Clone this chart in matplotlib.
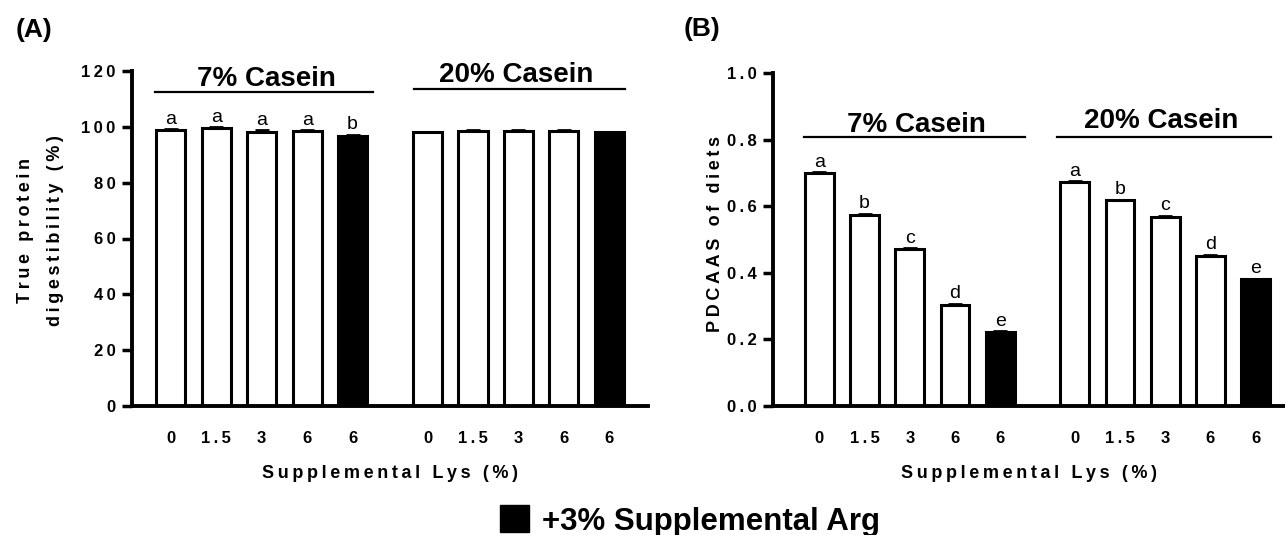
import numpy as np
import matplotlib
matplotlib.use('Agg')
import matplotlib.pyplot as plt
from matplotlib.patches import Patch

plt.rcParams['font.family'] = ['Liberation Sans', 'DejaVu Sans']
NARROW = ['Liberation Sans Narrow', 'Liberation Sans', 'DejaVu Sans']

# data
lys = ['0', '1.5', '3', '6', '6']
plus_arg = [False, False, False, False, True]
groups = ['7% Casein', '20% Casein']

tpd_7 = [98.9, 99.6, 98.3, 98.4, 96.8]
tpd_20 = [98.0, 98.5, 98.6, 98.5, 98.0]
tpd_7_err = [0.3, 0.3, 0.4, 0.4, 0.4]
tpd_20_err = [0.2, 0.2, 0.2, 0.2, 0.1]
tpd_7_let = ['a', 'a', 'a', 'a', 'b']
tpd_20_let = ['', '', '', '', '']

pdcaas_7 = [0.700, 0.575, 0.471, 0.304, 0.223]
pdcaas_20 = [0.673, 0.618, 0.569, 0.452, 0.381]
pdcaas_7_err = [0.003, 0.003, 0.003, 0.003, 0.002]
pdcaas_20_err = [0.003, 0.002, 0.003, 0.003, 0.002]
pdcaas_7_let = ['a', 'b', 'c', 'd', 'e']
pdcaas_20_let = ['a', 'b', 'c', 'd', 'e']


def spaced(s, sep='\u2009'):
    # GraphPad-style letter spacing
    return sep.join(s)


x7 = np.arange(5)
x20 = np.arange(5) + 5.65
W, H = 1285, 535

fig = plt.figure(figsize=(12.85, 5.35), dpi=100)
axA = fig.add_axes([132.2 / W, 1 - 406 / H, 515.8 / W, 335 / H])
axB = fig.add_axes([773.3 / W, 1 - 406 / H, 511.7 / W, 332.7 / H])


def panel(ax, v7, v20, e7, e20, l7, l20, ymax, yticks, fmt, xlim, loff,
          lines, texts):
    for xs, vals, errs, lets in [(x7, v7, e7, l7), (x20, v20, e20, l20)]:
        cols = ['black' if a else 'white' for a in plus_arg]
        ax.bar(xs, vals, width=0.64, color=cols, edgecolor='black',
               linewidth=2.2, zorder=2)
        ax.errorbar(xs, vals, yerr=[np.zeros(5), errs], fmt='none',
                    ecolor='black', elinewidth=1.5, capsize=5, capthick=2,
                    zorder=3)
        for x, v, e, t in zip(xs, vals, errs, lets):
            if t:
                ax.annotate(t, (x, v + e), xytext=(0, loff),
                            textcoords='offset points', ha='center',
                            va='baseline', fontsize=14, family=NARROW)
    for (a, b, y), (tx, ty), g in zip(lines, texts, groups):
        ax.plot([a, b], [y, y], color='black', lw=1.6, clip_on=False)
        ax.text(tx, ty, g, ha='center', va='baseline', fontsize=20,
                fontweight='bold', family=NARROW)
    ax.set_xlim(*xlim)
    ax.set_ylim(0, ymax)
    ax.set_yticks(yticks)
    ax.set_yticklabels([spaced(fmt.format(t)) for t in yticks],
                       fontweight='bold', fontsize=12)
    ax.set_xticks(np.concatenate([x7, x20]))
    ax.set_xticklabels([spaced(s) for s in lys * 2], fontweight='bold',
                       fontsize=12)
    ax.tick_params(axis='y', length=7, width=2.5, pad=5)
    ax.tick_params(axis='x', length=0, pad=18)
    for s in ['top', 'right']:
        ax.spines[s].set_visible(False)
    for s in ['left', 'bottom']:
        ax.spines[s].set_linewidth(2.8)
    ax.set_xlabel(spaced('Supplemental Lys (%)'), fontweight='bold',
                  fontsize=13, labelpad=14)


panel(axA, tpd_7, tpd_20, tpd_7_err, tpd_20_err, tpd_7_let, tpd_20_let,
      120, np.arange(0, 121, 20), '{:d}', (-0.85, 10.5), 4,
      [(-0.34, 4.44, 112.4), (5.34, 9.99, 113.4)],
      [(2.11, 114.6), (7.6, 116.1)])
panel(axB, pdcaas_7, pdcaas_20, pdcaas_7_err, pdcaas_20_err, pdcaas_7_let,
      pdcaas_20_let, 1.0, np.round(np.arange(0, 1.01, 0.2), 1), '{:.1f}',
      (-1.02, 10.3), 4,
      [(-0.33, 4.54, 0.808), (5.25, 9.99, 0.808)],
      [(2.15, 0.824), (7.55, 0.836)])

axA.set_ylabel(spaced('True protein') + '\n' + spaced('digestibility (%)'),
               fontweight='bold', fontsize=13, multialignment='center',
               linespacing=2.0)
axA.yaxis.set_label_coords(-0.132, 0.525)
axB.set_ylabel(spaced('PDCAAS of diets'), fontweight='bold', fontsize=13)
axB.yaxis.set_label_coords(-0.0956, 0.517)

fig.text(34 / W, 1 - 30 / H, '(A)', fontsize=19, fontweight='bold',
         ha='center', va='center')
fig.text(702 / W, 1 - 29 / H, '(B)', fontsize=19, fontweight='bold',
         ha='center', va='center')

fig.legend(handles=[Patch(facecolor='black', edgecolor='black')],
           labels=['+3% Supplemental Arg'], loc='center left',
           bbox_to_anchor=(500 / W, 1 - 521 / H), frameon=False,
           prop={'weight': 'bold', 'size': 22.5}, handlelength=0.93,
           handleheight=0.93, handletextpad=0.42, borderpad=0,
           borderaxespad=0)

fig.savefig('out.png', dpi=100)
